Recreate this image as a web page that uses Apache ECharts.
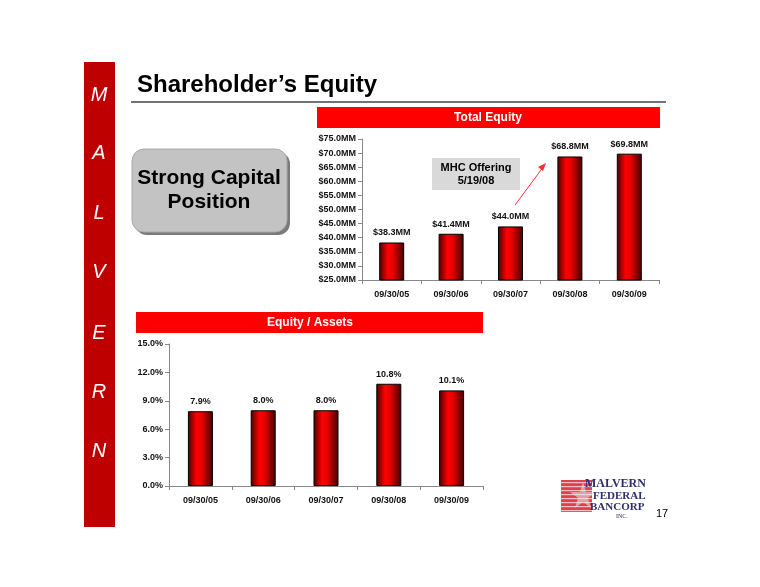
<!DOCTYPE html>
<html><head><meta charset="utf-8">
<script src="https://cdn.jsdelivr.net/npm/echarts@6/dist/echarts.min.js"></script>
<style>html,body{margin:0;padding:0;background:#fff}#c{width:760px;height:587px}</style>
</head><body><div id="c"></div>
<script>
const categories = ['09/30/05','09/30/06','09/30/07','09/30/08','09/30/09'];
const totalEquity = [38.3, 41.4, 44.0, 68.8, 69.8];
const equityAssets = [7.9, 8.0, 8.0, 10.8, 10.1];
const sideLetters = ['M','A','L','V','E','R','N'];
const sideLetterY = [95,153,213,272,333,392,451];

const FONT = '"Liberation Sans", Arial, sans-serif';
const barGrad = {type:'linear',x:0,y:0,x2:1,y2:0,colorStops:[
  {offset:0,color:'#4a0000'},{offset:0.35,color:'#ff0000'},{offset:0.55,color:'#e80000'},{offset:1,color:'#400000'}]};

const chart = echarts.init(document.getElementById('c'));

const graphics = [];
graphics.push({type:'rect',shape:{x:84,y:62,width:31,height:465},style:{fill:'#bf0000'}});
sideLetters.forEach((l,i)=>graphics.push({type:'text',x:99,y:sideLetterY[i],style:{text:l,fill:'#fff',font:'italic 20px '+FONT,align:'center',verticalAlign:'middle'}}));
graphics.push({type:'text',x:137,y:85,style:{text:'Shareholder\u2019s Equity',fill:'#000',font:'bold 24px '+FONT,verticalAlign:'middle'}});
graphics.push({type:'line',shape:{x1:131,y1:102,x2:666,y2:102},style:{stroke:'#444',lineWidth:1.5}});
// Strong capital box
graphics.push({type:'rect',shape:{x:135,y:152,width:155,height:83,r:12},style:{fill:'#7a7a7a'}});
graphics.push({type:'rect',shape:{x:132,y:149,width:155,height:83,r:12},style:{fill:'#c3c3c3',stroke:'#aaa',lineWidth:1}});
graphics.push({type:'text',x:209,y:190,style:{text:'Strong Capital\nPosition',fill:'#000',font:'bold 21px '+FONT,align:'center',verticalAlign:'middle',lineHeight:24}});
// headers
graphics.push({type:'rect',shape:{x:317,y:107,width:343,height:21},style:{fill:'#ff0000'}});
graphics.push({type:'text',x:488,y:118,style:{text:'Total Equity',fill:'#fff',font:'bold 12px '+FONT,align:'center',verticalAlign:'middle'}});
graphics.push({type:'rect',shape:{x:136,y:312,width:347,height:21},style:{fill:'#ff0000'}});
graphics.push({type:'text',x:310,y:323,style:{text:'Equity / Assets',fill:'#fff',font:'bold 12px '+FONT,align:'center',verticalAlign:'middle'}});
// callout
graphics.push({type:'rect',shape:{x:432,y:158,width:88,height:32},style:{fill:'#d9d9d9'}});
graphics.push({type:'text',x:476,y:174,style:{text:'MHC Offering\n5/19/08',fill:'#000',font:'bold 11px '+FONT,align:'center',verticalAlign:'middle',lineHeight:13}});
graphics.push({type:'line',shape:{x1:515,y1:205,x2:544,y2:166},style:{stroke:'#ff3030',lineWidth:1}});
graphics.push({type:'polygon',shape:{points:[[546,163],[538,167],[543,171]]},style:{fill:'#ff3030'}});
// logo
graphics.push({type:'rect',shape:{x:561,y:480,width:31,height:32},style:{fill:'#e0404a'}});
for(let i=0;i<8;i++) graphics.push({type:'rect',shape:{x:561,y:482+i*4,width:31,height:1.2},style:{fill:'#f4c0c4'}});
graphics.push({type:'polygon',shape:{points:[[583,482],[586,492],[596,492],[588,498],[591,508],[583,502],[575,508],[578,498],[570,492],[580,492]]},style:{fill:'#e8e8f0',opacity:0.55}});
graphics.push({type:'text',x:585,y:484,style:{text:'MALVERN',fill:'#2d2d6b',font:'bold 12px "Liberation Serif", serif',verticalAlign:'middle'}});
graphics.push({type:'text',x:593,y:496,style:{text:'FEDERAL',fill:'#2d2d6b',font:'bold 11px "Liberation Serif", serif',verticalAlign:'middle'}});
graphics.push({type:'text',x:590,y:507,style:{text:'BANCORP',fill:'#2d2d6b',font:'bold 11px "Liberation Serif", serif',verticalAlign:'middle'}});
graphics.push({type:'text',x:616,y:516,style:{text:'INC.',fill:'#2d2d6b',font:'6px "Liberation Serif", serif',verticalAlign:'middle'}});
graphics.push({type:'text',x:656,y:514,style:{text:'17',fill:'#000',font:'11px '+FONT,verticalAlign:'middle'}});

const axisLabelStyle = {color:'#111',fontSize:9,fontWeight:'bold',fontFamily:FONT};
chart.setOption({
  animation:false,
  backgroundColor:'#fff',
  graphic:graphics,
  grid:[
    {left:362,top:139,width:297,height:141},
    {left:169,top:344,width:314,height:142}
  ],
  xAxis:[
    {gridIndex:0,type:'category',data:categories,axisLine:{lineStyle:{color:'#888'}},axisTick:{show:true,length:4,lineStyle:{color:'#888'}},axisLabel:Object.assign({margin:10},axisLabelStyle)},
    {gridIndex:1,type:'category',data:categories,axisLine:{lineStyle:{color:'#888'}},axisTick:{show:true,length:4,lineStyle:{color:'#888'}},axisLabel:Object.assign({margin:10},axisLabelStyle)}
  ],
  yAxis:[
    {gridIndex:0,type:'value',min:25,max:75,interval:5,splitLine:{show:false},axisLine:{show:true,lineStyle:{color:'#888'}},axisTick:{show:true,length:4,lineStyle:{color:'#888'}},axisLabel:Object.assign({margin:6,formatter:v=>'$'+v.toFixed(1)+'MM'},axisLabelStyle)},
    {gridIndex:1,type:'value',min:0,max:15,interval:3,splitLine:{show:false},axisLine:{show:true,lineStyle:{color:'#888'}},axisTick:{show:true,length:4,lineStyle:{color:'#888'}},axisLabel:Object.assign({margin:6,formatter:v=>v.toFixed(1)+'%'},axisLabelStyle)}
  ],
  series:[
    {type:'bar',xAxisIndex:0,yAxisIndex:0,data:totalEquity,barWidth:25,
     itemStyle:{color:barGrad,borderColor:'#000',borderWidth:1},
     label:{show:true,position:'top',distance:5,formatter:p=>'$'+p.value.toFixed(1)+'MM',color:'#111',fontSize:9,fontWeight:'bold',fontFamily:FONT}},
    {type:'bar',xAxisIndex:1,yAxisIndex:1,data:equityAssets,barWidth:25,
     itemStyle:{color:barGrad,borderColor:'#000',borderWidth:1},
     label:{show:true,position:'top',distance:5,formatter:p=>p.value.toFixed(1)+'%',color:'#111',fontSize:9,fontWeight:'bold',fontFamily:FONT}}
  ]
});
</script></body></html>
